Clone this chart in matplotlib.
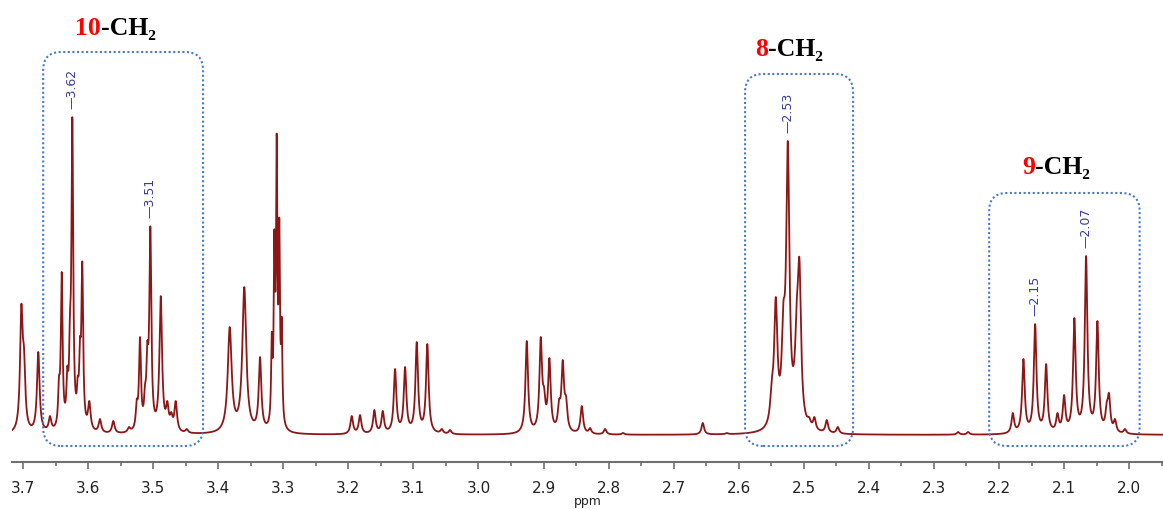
import numpy as np
import matplotlib
matplotlib.use("Agg")
from matplotlib import pyplot as plt
from matplotlib.patches import FancyBboxPatch
from matplotlib.transforms import IdentityTransform

# peak positions (ppm) and apparent heights
shifts = [3.7025, 3.6985, 3.6765, 3.6585, 3.6447, 3.6405, 3.6319, 3.6278, 3.6242,
          3.6159, 3.6124, 3.6089, 3.5981, 3.5817, 3.5612, 3.5371,
          3.5252, 3.5202, 3.5125, 3.5089, 3.5043, 3.4883, 3.4782, 3.4721, 3.4653, 3.4484,
          3.3946, 3.3823, 3.3599, 3.3357, 3.3177, 3.3137, 3.3101, 3.3061, 3.3024,
          3.1948, 3.1820, 3.1600, 3.1471, 3.1282, 3.1128, 3.0949, 3.0786, 3.0564, 3.0437,
          2.9258, 2.9043, 2.8992, 2.8910, 2.8761, 2.8705, 2.8654, 2.8412, 2.8285, 2.8054, 2.7778,
          2.6553, 2.6184, 2.5626, 2.5492, 2.5431, 2.5314, 2.5246, 2.5149, 2.5108, 2.5068,
          2.5011, 2.4919, 2.4837, 2.4647, 2.4478, 2.2629, 2.2475,
          2.1788, 2.1625, 2.1445, 2.1276, 2.1102, 2.1000, 2.0842, 2.0662, 2.0488,
          2.0345, 2.0310, 2.0218, 2.0064]
heights = [131, 88, 83, 19, 59, 163, 69, 123, 318,
           59, 98, 174, 34, 16, 14, 8,
           36, 98, 51, 94, 209, 139, 34, 23, 34, 6,
           8, 108, 148, 78, 103, 206, 302, 218, 118,
           19, 20, 25, 24, 66, 68, 93, 91, 6, 5,
           94, 98, 48, 77, 36, 75, 39, 29, 7, 6, 2,
           12, 2, 4, 56, 138, 133, 294, 74, 136, 177,
           39, 18, 18, 15, 8, 3, 3,
           22, 76, 111, 71, 22, 40, 117, 179, 114,
           33, 42, 16, 6]

# labelled peaks
pick_ppm = [3.62, 3.51, 2.53, 2.15, 2.07]
pick_pos = [3.6242, 3.5043, 2.5246, 2.1445, 2.0662]
pick_top = [318, 209, 294, 111, 179]

groups = ["10", "8", "9"]
ticks = np.round(np.arange(2.0, 3.71, 0.1), 1)

# build the trace as a sum of lorentzians, scaled so the tops match the picture
shifts = np.array(shifts)
heights = np.array(heights, dtype=float)
gam = np.full(len(shifts), 0.0024)
gam[(shifts > 2.49) & (shifts < 2.56)] = 0.0030
gam[(shifts > 3.35) & (shifts < 3.39)] = 0.0036
gam[(shifts > 3.30) & (shifts < 3.32)] = 0.0012
gam[(shifts > 3.60) & (shifts < 3.645)] = 0.0016
gam[(shifts > 3.50) & (shifts < 3.53)] = 0.0018

def lor(x, c, g):
    return 1.0 / (1.0 + ((x[:, None] - c[None, :]) / g[None, :]) ** 2)

M = lor(shifts, shifts, gam)
amp = heights.copy()
for _ in range(300):
    amp *= heights / (M @ amp)

x = np.linspace(3.72, 1.94, 9000)
y = lor(x, shifts, gam) @ amp

fig = plt.figure(figsize=(11.63, 5.10), dpi=100)
ax = fig.add_axes([12 / 1163, 1 - 463 / 510, 1 - 12 / 1163, 463 / 510])
ax.plot(x, y, color="#8e1616", lw=1.3)
ax.set_xlim(3.7169, 1.948)
ax.set_ylim(-27, 436)

for s in ["left", "right", "top"]:
    ax.spines[s].set_visible(False)
ax.spines["bottom"].set_color("#707070")
ax.spines["bottom"].set_linewidth(1.5)
ax.set_yticks([])
ax.set_xticks(ticks)
ax.set_xticklabels(["%.1f" % t for t in ticks])
ax.set_xticks(np.round(np.arange(1.95, 3.72, 0.1), 2), minor=True)
ax.tick_params(axis="x", which="major", length=5, width=1.2, color="#707070",
               labelsize=11, labelcolor="#222222", pad=8)
ax.tick_params(axis="x", which="minor", length=3, width=1.2, color="#707070")
ax.set_xlabel("ppm", fontsize=9, labelpad=-1, color="#222222")

for lab, p, h in zip(pick_ppm, pick_pos, pick_top):
    ax.text(p, h + 9, "\u2014%.2f" % lab, rotation=90, ha="center", va="bottom",
            fontsize=9, color="#3a3a9e")

# dotted rounded boxes around the groups (ppm left, ppm right, top)
boxes = [(3.669, 3.4233, 383), (2.5903, 2.4243, 361), (2.2152, 1.9839, 242)]
for l, r, t in boxes:
    (x0, y0) = ax.transData.transform((l, -11))
    (x1, y1) = ax.transData.transform((r, t))
    pad = 18
    fb = FancyBboxPatch((x0 + pad, y0 + pad), x1 - x0 - 2 * pad, y1 - y0 - 2 * pad,
                        boxstyle="round,pad=%d" % pad, transform=IdentityTransform(),
                        fill=False, ec="#4a78cc", lw=1.5, ls=(0, (1, 1.2)), clip_on=False)
    fig.add_artist(fb)

# group titles, red number + black -CH2
title_pos = [(3.620, 401), (2.5749, 380), (2.1645, 262)]
for g, (tx, ty) in zip(groups, title_pos):
    t1 = ax.text(tx, ty, g, color="#ff0000", fontsize=18.5, fontweight="bold",
                 family=["Liberation Serif", "DejaVu Serif"], ha="left", va="baseline")
    ax.annotate("-CH\u2082", xy=(1, 0), xycoords=t1, ha="left", va="bottom",
                color="black", fontsize=18.5, fontweight="bold",
                family=["Liberation Serif", "DejaVu Serif"])

fig.savefig("out.png", dpi=100)
